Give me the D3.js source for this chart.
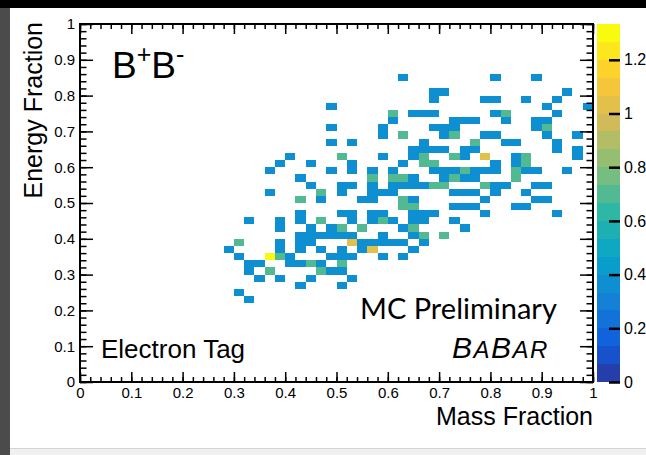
<!DOCTYPE html>
<html>
<head>
<meta charset="utf-8">
<script src="https://cdn.jsdelivr.net/npm/d3@7"></script>
<style>
  body { margin: 0; background: #fff; }
  svg { display: block; font-family: "Liberation Sans", Arial, sans-serif; }
</style>
</head>
<body>
<script>
/******************/
/*     data       */
/******************/
// 2D histogram, 50 x 50 bins of 0.02 in mass fraction (x) and energy fraction (y)
var binSize = 0.02;
var entryWeight = 1 / 3; // weight of one MC entry
var zMax = 4 / 3;        // top of the colour scale
// [energy bin, [mass bins filled in that row]]
var rows = [
	[42, [31, 40, 44]],
	[40, [34, 35, 47]],
	[39, [34, 39, 40, 43, 46]],
	[38, [24, 45, 49]],
	[37, [30, 32, 33, 34, 40, 41, 46]],
	[36, [30, 36, 37, 38, 41, 44, 45]],
	[35, [24, 29, 34, 35, 36, 44, 45]],
	[34, [29, 31, 35, 36, 39, 40, 45, 48]],
	[33, [24, 26, 33, 38, 41, 42, 46]],
	[32, [32, 33, 34, 35, 37, 38, 46, 48]],
	[31, [20, 25, 29, 32, 33, 36, 37, 39, 42, 43, 48]],
	[30, [19, 22, 26, 31, 33, 34, 40, 42, 43]],
	[29, [18, 24, 26, 28, 30, 34, 35, 36, 37, 38, 39, 40, 42, 43, 44, 47]],
	[28, [21, 28, 30, 31, 32, 35, 36, 37, 38, 42]],
	[27, [22, 25, 26, 28, 30, 31, 32, 33, 34, 35, 39, 40, 41, 44, 45]],
	[26, [18, 23, 25, 28, 29, 30, 36, 37, 38, 40, 43]],
	[25, [21, 23, 27, 28, 31, 32, 39, 44, 45]],
	[24, [31, 32, 36, 37, 38, 42, 43]],
	[23, [21, 25, 26, 28, 29, 32, 33, 34, 39, 46]],
	[22, [16, 19, 21, 23, 26, 28, 29, 30, 32, 33, 36]],
	[21, [19, 22, 24, 25, 27, 31, 32, 37]],
	[20, [21, 22, 23, 24, 25, 26, 29, 32, 33, 35]],
	[19, [15, 19, 21, 22, 26, 27, 28, 29, 30, 31, 33]],
	[18, [14, 19, 21, 23, 25, 27, 28, 32]],
	[17, [15, 18, 19, 20, 24, 25, 26, 29, 31]],
	[16, [16, 17, 20, 21, 22, 23, 25]],
	[15, [16, 18, 23, 24, 25]],
	[14, [17, 19, 22, 26]],
	[13, [21, 25]],
	[12, [15]],
	[11, [16]]
];
// bins with more than one entry: [mass bin, energy bin]
var twoEntries = [[30, 37], [41, 37], [45, 35], [31, 34], [36, 34], [38, 33], [25, 31], [33, 31],
	[36, 31], [43, 31], [33, 30], [34, 30], [43, 30], [37, 29], [42, 29], [28, 28], [30, 28],
	[31, 28], [36, 28], [42, 28], [34, 27], [35, 27], [39, 27], [23, 26], [21, 25], [31, 25],
	[31, 24], [32, 24], [23, 22], [29, 22], [25, 21], [27, 21], [32, 21], [33, 20], [35, 20],
	[15, 19], [19, 17], [22, 16], [25, 16], [18, 15], [23, 15]];
var threeEntries = [[39, 31], [26, 19], [28, 18]];
var fourEntries = [[18, 17]];

var axisTicks = [0, 0.1, 0.2, 0.3, 0.4, 0.5, 0.6, 0.7, 0.8, 0.9, 1];
var zTicks = [0, 0.2, 0.4, 0.6, 0.8, 1, 1.2];
// ROOT kBird palette
var birdStops = [0, 0.125, 0.25, 0.375, 0.5, 0.625, 0.75, 0.875, 1];
var birdR = [0.2082, 0.0592, 0.0780, 0.0232, 0.1802, 0.5301, 0.8186, 0.9956, 0.9764];
var birdG = [0.1664, 0.3599, 0.5041, 0.6419, 0.7178, 0.7492, 0.7328, 0.7862, 0.9832];
var birdB = [0.5293, 0.8684, 0.8385, 0.7914, 0.6425, 0.4662, 0.3499, 0.1968, 0.0539];

/******************/
/*   build table  */
/******************/
var counts = {};
rows.forEach(function(r) {
	r[1].forEach(function(i) { counts[i + "_" + r[0]] = 1; });
});
twoEntries.forEach(function(d) { counts[d[0] + "_" + d[1]] = 2; });
threeEntries.forEach(function(d) { counts[d[0] + "_" + d[1]] = 3; });
fourEntries.forEach(function(d) { counts[d[0] + "_" + d[1]] = 4; });
var data = Object.keys(counts).map(function(k) {
	var p = k.split("_");
	return { x: +p[0] * binSize, y: +p[1] * binSize, z: counts[k] * entryWeight };
});

/******************/
/*   d3 init var  */
/******************/
var W = 646, H = 455;
var frame = { left: 80, right: 593, top: 24, bottom: 382 };
var x = d3.scaleLinear().domain([0, 1]).range([frame.left, frame.right]);
var y = d3.scaleLinear().domain([0, 1]).range([frame.bottom, frame.top]);
var zy = d3.scaleLinear().domain([0, zMax]).range([frame.bottom, frame.top]);
var bird = d3.scaleLinear().domain(birdStops).range(birdStops.map(function(s, i) {
	return d3.rgb(birdR[i] * 255, birdG[i] * 255, birdB[i] * 255).toString();
}));
var nCont = 20;
function band(v) {
	return Math.min(nCont - 1, Math.floor(v / zMax * nCont + 1e-6));
}
function bandColor(k) { return bird((k + 1) / nCont); }

var svg = d3.select("body").append("svg").attr("width", W).attr("height", H);

// screenshot surroundings
svg.append("rect").attr("x", 0).attr("y", 0).attr("width", W).attr("height", 8).attr("fill", "#000");
svg.append("rect").attr("x", 0).attr("y", 8).attr("width", 10).attr("height", H - 8).attr("fill", "#4b4b4b");
svg.append("rect").attr("x", 10).attr("y", 448).attr("width", W - 10).attr("height", H - 448).attr("fill", "#f0f0f0");
svg.append("line").attr("x1", 10).attr("x2", W).attr("y1", 448.5).attr("y2", 448.5).attr("stroke", "#d4d4d4");

/******************/
/*    d3 draw     */
/******************/
// cells
svg.append("g").selectAll("rect").data(data).enter().append("rect")
	.attr("x", function(d) { return x(d.x); })
	.attr("y", function(d) { return y(d.y + binSize); })
	.attr("width", function(d) { return x(d.x + binSize) - x(d.x); })
	.attr("height", function(d) { return y(d.y) - y(d.y + binSize); })
	.attr("fill", function(d) { return bandColor(band(d.z)); })
	.attr("shape-rendering", "crispEdges");

// axes: ticks point inwards like ROOT
var minor = d3.range(0, 51).map(function(i) { return i * binSize; });
function axis(gen, tr, vals, size, fmt) {
	var g = svg.append("g").attr("transform", tr)
		.call(gen.tickValues(vals).tickSizeInner(-size).tickSizeOuter(0).tickPadding(fmt ? 5 : 0)
			.tickFormat(fmt ? d3.format("~g") : ""));
	g.select(".domain").remove();
	g.selectAll("line").attr("stroke", "#000").attr("stroke-width", 1.5);
	g.selectAll("text").attr("fill", "#000").style("font-size", "15px");
	return g;
}
axis(d3.axisBottom(x), "translate(0," + frame.bottom + ")", minor, 5);
axis(d3.axisBottom(x), "translate(0," + frame.bottom + ")", axisTicks, 10, true);
axis(d3.axisTop(x), "translate(0," + frame.top + ")", minor, 5);
axis(d3.axisTop(x), "translate(0," + frame.top + ")", axisTicks, 10);
axis(d3.axisLeft(y), "translate(" + frame.left + ",0)", minor, 6.5);
axis(d3.axisLeft(y), "translate(" + frame.left + ",0)", axisTicks, 13, true);
axis(d3.axisRight(y), "translate(" + frame.right + ",0)", minor, 6.5);
axis(d3.axisRight(y), "translate(" + frame.right + ",0)", axisTicks, 13);

svg.append("rect")
	.attr("x", frame.left).attr("y", frame.top)
	.attr("width", frame.right - frame.left).attr("height", frame.bottom - frame.top)
	.attr("fill", "none").attr("stroke", "#000").attr("stroke-width", 2);

// colour bar
var zx0 = 597, zx1 = 620;
svg.append("g").selectAll("rect").data(d3.range(nCont)).enter().append("rect")
	.attr("x", zx0)
	.attr("y", function(k) { return zy((k + 1) * zMax / nCont); })
	.attr("width", zx1 - zx0)
	.attr("height", function(k) { return zy(k * zMax / nCont) - zy((k + 1) * zMax / nCont); })
	.attr("fill", function(k) { return bandColor(k); })
	.attr("shape-rendering", "crispEdges");
var zg = svg.append("g").attr("transform", "translate(" + zx1 + ",0)")
	.call(d3.axisRight(zy).tickValues(zTicks).tickSizeInner(-11).tickSizeOuter(0).tickPadding(4)
		.tickFormat(d3.format("~g")));
zg.select(".domain").remove();
zg.selectAll("line").attr("stroke", "#000").attr("stroke-width", 2.5);
zg.selectAll("text").attr("fill", "#000").style("font-size", "16px");

// titles
svg.append("text").attr("x", frame.right).attr("y", 425).attr("text-anchor", "end")
	.style("font-size", "25px").text("Mass Fraction");
svg.append("text").attr("transform", "translate(42," + (frame.top - 2) + ") rotate(-90)")
	.attr("text-anchor", "end").style("font-size", "25px").text("Energy Fraction");

// labels in the frame
var bb = svg.append("text").attr("x", 112).attr("y", 78).style("font-size", "37px");
bb.append("tspan").text("B");
bb.append("tspan").attr("dy", -15).style("font-size", "25px").text("+");
bb.append("tspan").attr("dy", 15).text("B");
bb.append("tspan").attr("dy", -15).style("font-size", "25px").text("-");

svg.append("text").attr("x", 101).attr("y", 358).style("font-size", "26px").text("Electron Tag");
svg.append("text").attr("x", 360).attr("y", 319).style("font-family", "Lato, 'Open Sans', sans-serif")
	.style("font-size", "29px").text("MC Preliminary");
var babar = svg.append("text").attr("x", 452).attr("y", 358)
	.style("font-style", "italic").style("font-size", "30px").style("letter-spacing", "1.5px");
babar.append("tspan").text("B");
babar.append("tspan").style("font-size", "24px").text("A");
babar.append("tspan").text("B");
babar.append("tspan").style("font-size", "24px").text("AR");
</script>
</body>
</html>
